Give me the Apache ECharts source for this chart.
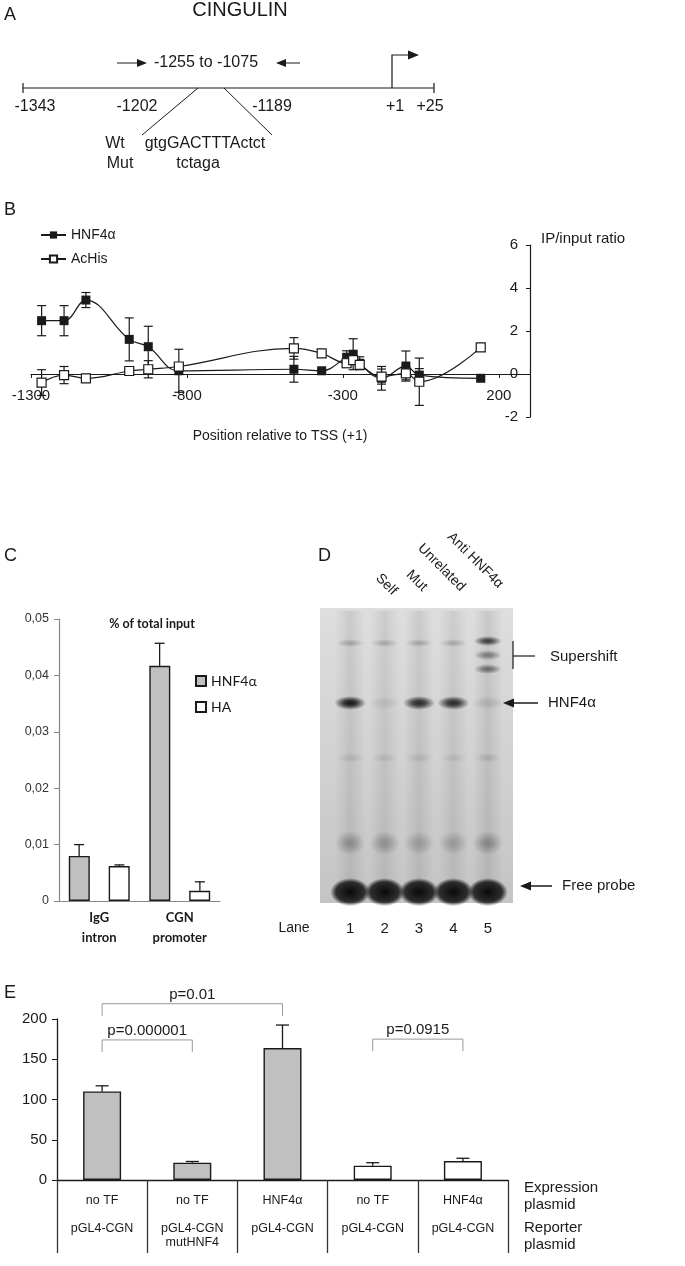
<!DOCTYPE html>
<html>
<head>
<meta charset="utf-8">
<script src="https://cdn.jsdelivr.net/npm/echarts@6/dist/echarts.min.js"></script>
<style>
  html, body { margin: 0; padding: 0; background: #fff; }
  #chart { width: 685px; height: 1266px; }
</style>
</head>
<body>
<div id="chart"></div>
<script>
// ---------- data ----------
// B: ChIP scan, position relative to TSS and IP/input ratio
const scanPos    = [-1266, -1194, -1124, -985, -924, -826, -457, -368, -288, -267, -246, -176, -98, -55, 142];
const hnf4aRatio = [2.48, 2.48, 3.44, 1.61, 1.27, 0.15, 0.22, 0.15, 0.78, 0.92, 0.5, -0.2, 0.37, -0.05, -0.2];
const hnf4aErr   = [0.7, 0.7, 0.35, 1.0, 0.95, 1.0, 0.6, 0.08, 0.3, 0.72, 0.3, 0.55, 0.7, 0.3, 0.08];
const acHisRatio = [-0.4, -0.05, -0.2, 0.14, 0.22, 0.35, 1.19, 0.96, 0.5, 0.65, 0.42, -0.12, 0.03, -0.36, 1.24];
const acHisErr   = [0.6, 0.4, 0, 0.08, 0.4, 0.08, 0.5, 0.08, 0.2, 0.2, 0.2, 0.35, 0.3, 1.1, 0.08];

// C: % of total input
const chipCats     = ['IgG\nintron', 'CGN\npromoter'];
const chipHnf4a    = [0.008, 0.0417];
const chipHnf4aErr = [0.002, 0.004];
const chipHa       = [0.0062, 0.0018];
const chipHaErr    = [0.0002, 0.0016];

// D: EMSA gel, [lane index, migration (0 top .. 100 bottom), intensity]
const gelLanes   = ['1', '2', '3', '4', '5'];
const laneSmear  = [[0, 50, 0.11], [1, 50, 0.1], [2, 50, 0.11], [3, 50, 0.1], [4, 50, 0.12]];
const wellBand   = [[0, 11.9, 0.22], [1, 11.9, 0.2], [2, 11.9, 0.22], [3, 11.9, 0.2]];
const superBand  = [[4, 11.2, 0.75], [4, 16, 0.42], [4, 20.7, 0.5]];
const hnf4aBand  = [[0, 32.2, 0.95], [1, 32.2, 0.08], [2, 32.2, 0.85], [3, 32.2, 0.85], [4, 32.2, 0.12]];
const midBand    = [[0, 50.8, 0.1], [1, 50.8, 0.09], [2, 50.8, 0.1], [3, 50.8, 0.08], [4, 50.8, 0.12]];
const smearBand  = [[0, 79.7, 0.28], [1, 79.7, 0.26], [2, 79.7, 0.2], [3, 79.7, 0.2], [4, 79.7, 0.3]];
const freeProbe  = [[0, 96.3, 1], [1, 96.3, 1], [2, 96.3, 1], [3, 96.3, 1], [4, 96.3, 1]];
const laneNames  = ['Self', 'Mut', 'Unrelated', 'Anti HNF4α'];

// E: luciferase reporter
const exprPlasmid     = ['no TF', 'no TF', 'HNF4α', 'no TF', 'HNF4α'];
const reporterPlasmid = ['pGL4-CGN', 'pGL4-CGN\nmutHNF4', 'pGL4-CGN', 'pGL4-CGN', 'pGL4-CGN'];
const lucValues       = [110, 21.5, 164, 17.8, 23.6];
const lucErr          = [7, 1.5, 28.5, 3.7, 3.4];
const lucFill         = ['#c0c0c0', '#c0c0c0', '#c0c0c0', '#fff', '#fff'];
// [from bar, to bar, label], bracket level in axis units
const pTests  = [[0, 2, 'p=0.01'], [0, 1, 'p=0.000001'], [3, 4, 'p=0.0915']];
const pLevels = [219, 174, 175];

// ---------- helpers ----------
const SANS = '"Liberation Sans", Arial, sans-serif';
const CAL = 'Lato, "Open Sans", sans-serif';
const INK = '#1a1a1a';

function txt(x, y, text, o) {
  o = o || {};
  return {
    type: 'text', x: x, y: y, rotation: o.rot || 0, z: 10,
    style: {
      text: text, fill: o.color || INK,
      font: (o.weight || 'normal') + ' ' + (o.size || 14) + 'px ' + (o.family || SANS),
      align: o.align || 'left', verticalAlign: o.va || 'middle'
    }
  };
}
function ln(x1, y1, x2, y2, o) {
  o = o || {};
  return { type: 'line', z: 10, shape: { x1: x1, y1: y1, x2: x2, y2: y2 },
    style: { stroke: o.color || INK, lineWidth: o.w || 1.2 } };
}
function tri(points) {
  return { type: 'polygon', z: 10, shape: { points: points }, style: { fill: INK } };
}

// vertical error bar with caps (both sides) for value/value grid
function symErr(capW) {
  return function (params, api) {
    const e = api.value(2);
    if (!e) return null;
    const x = api.value(0), y = api.value(1);
    const t = api.coord([x, y + e]), b = api.coord([x, y - e]);
    const st = { stroke: INK, lineWidth: 1.2 };
    return { type: 'group', children: [
      { type: 'line', shape: { x1: t[0], y1: t[1], x2: b[0], y2: b[1] }, style: st },
      { type: 'line', shape: { x1: t[0] - capW / 2, y1: t[1], x2: t[0] + capW / 2, y2: t[1] }, style: st },
      { type: 'line', shape: { x1: b[0] - capW / 2, y1: b[1], x2: b[0] + capW / 2, y2: b[1] }, style: st }
    ] };
  };
}
// upward error bar on a category grid, shifted by a fraction of the band
function upErr(offsetFrac, capW) {
  return function (params, api) {
    const i = api.value(0), v = api.value(1), e = api.value(2);
    const band = api.size([1, 0])[0];
    const base = api.coord([i, v]), top = api.coord([i, v + e]);
    const x = base[0] + offsetFrac * band;
    const st = { stroke: INK, lineWidth: 1.3 };
    return { type: 'group', children: [
      { type: 'line', shape: { x1: x, y1: base[1], x2: x, y2: top[1] }, style: st },
      { type: 'line', shape: { x1: x - capW / 2, y1: top[1], x2: x + capW / 2, y2: top[1] }, style: st }
    ] };
  };
}
function bandColor(core) {
  return function (p) {
    const a = p.value[2];
    return new echarts.graphic.RadialGradient(0.5, 0.5, 0.5, [
      { offset: 0, color: 'rgba(10,10,10,' + a + ')' },
      { offset: core, color: 'rgba(10,10,10,' + (a * 0.8) + ')' },
      { offset: 1, color: 'rgba(10,10,10,0)' }
    ]);
  };
}
function gelSeries(data, size, core) {
  return {
    type: 'scatter', xAxisIndex: 2, yAxisIndex: 2, symbol: 'circle', symbolSize: size,
    data: data, silent: true, z: 3,
    itemStyle: { color: bandColor(core), opacity: 1 }
  };
}

// ---------- graphic: panel A schematic and annotations ----------
const g = [];
// panel letters
g.push(txt(4, 15, 'A', { size: 18 }));
g.push(txt(4, 210, 'B', { size: 18 }));
g.push(txt(4, 556, 'C', { size: 18 }));
g.push(txt(318, 556, 'D', { size: 18 }));
g.push(txt(4, 993, 'E', { size: 18 }));

// panel A
g.push(txt(240, 10, 'CINGULIN', { size: 20, align: 'center' }));
g.push(ln(23, 88, 434, 88));
g.push(ln(23, 83, 23, 93));
g.push(ln(434, 83, 434, 93));
g.push({ type: 'polyline', z: 10, shape: { points: [[392, 88], [392, 55], [410, 55]] }, style: { stroke: INK, lineWidth: 1.2, fill: null } });
g.push(tri([[408, 50.5], [419, 55], [408, 59.5]]));
g.push(ln(117, 63, 139, 63, { w: 1 }));
g.push(tri([[137, 59], [147, 63], [137, 67]]));
g.push(ln(284, 63, 300, 63, { w: 1 }));
g.push(tri([[286, 59], [276, 63], [286, 67]]));
g.push(txt(206, 63, '-1255 to -1075', { size: 16, align: 'center' }));
[['-1343', 35], ['-1202', 137], ['-1189', 272], ['+1', 395], ['+25', 430]].forEach(function (d) {
  g.push(txt(d[1], 107, d[0], { size: 16, align: 'center' }));
});
g.push(ln(198, 88, 142, 135, { w: 1 }));
g.push(ln(224, 88, 272, 135, { w: 1 }));
g.push(txt(115, 144, 'Wt', { size: 16, align: 'center' }));
g.push(txt(205, 144, 'gtgGACTTTActct', { size: 16, align: 'center' }));
g.push(txt(120, 164, 'Mut', { size: 16, align: 'center' }));
g.push(txt(198, 164, 'tctaga', { size: 16, align: 'center' }));

// panel B texts
g.push(txt(541, 239, 'IP/input ratio', { size: 15 }));
g.push(txt(280, 436, 'Position relative to TSS (+1)', { size: 14, align: 'center' }));

// panel C title
g.push(txt(152, 624, '% of total input', { size: 12.5, weight: 'bold', family: CAL, align: 'center' }));

// panel D gel background, rotated lane labels, annotations
g.push({ type: 'rect', z: 0, shape: { x: 320, y: 608, width: 193, height: 295 },
  style: { fill: new echarts.graphic.LinearGradient(0, 0, 0, 1, [
    { offset: 0, color: '#dedede' }, { offset: 0.5, color: '#d2d2d2' }, { offset: 1, color: '#c4c4c4' }]) } });
const laneEnds = [[390, 598], [420, 594], [458, 594], [496, 591]];
laneNames.forEach(function (n, i) {
  g.push(txt(laneEnds[i][0], laneEnds[i][1], n, { size: 14, align: 'right', va: 'bottom', rot: -Math.PI / 4 }));
});
g.push(ln(513, 641, 513, 669));
g.push(ln(513, 656, 535, 656));
g.push(txt(550, 657, 'Supershift', { size: 15 }));
g.push(ln(538, 703, 511, 703, { w: 1.5 }));
g.push(tri([[503, 703], [514, 698.5], [514, 707.5]]));
g.push(txt(548, 703, 'HNF4α', { size: 15 }));
g.push(ln(552, 886, 528, 886, { w: 1.5 }));
g.push(tri([[520, 886], [531, 881.5], [531, 890.5]]));
g.push(txt(562, 886, 'Free probe', { size: 15 }));
g.push(txt(294, 928, 'Lane', { size: 14, align: 'center' }));

// panel E right side labels
g.push(txt(524, 1188, 'Expression', { size: 15 }));
g.push(txt(524, 1205, 'plasmid', { size: 15 }));
g.push(txt(524, 1228, 'Reporter', { size: 15 }));
g.push(txt(524, 1245, 'plasmid', { size: 15 }));

// ---------- option ----------
const chart = echarts.init(document.getElementById('chart'));
const option = {
  animation: false,
  backgroundColor: '#fff',
  textStyle: { fontFamily: SANS, color: INK },
  graphic: { elements: g },
  legend: [
    {
      data: ['HNF4α', 'AcHis'], orient: 'vertical', left: 35, top: 223,
      itemWidth: 25, itemHeight: 9, itemGap: 10, selectedMode: false,
      textStyle: { fontSize: 14, color: INK, fontFamily: SANS }
    },
    {
      data: ['HNF4α ', 'HA'], orient: 'vertical', left: 190, top: 669,
      icon: 'rect', itemWidth: 10, itemHeight: 10, itemGap: 12, selectedMode: false,
      textStyle: { fontSize: 14, color: INK, fontFamily: CAL }
    }
  ],
  grid: [
    { left: 31, width: 499, top: 245, height: 172 },
    { left: 59, width: 161, top: 619, height: 282 },
    { left: 333, width: 172, top: 608, height: 295 },
    { left: 57, width: 451, top: 1019, height: 161 }
  ],
  xAxis: [
    {
      // sits on the zero line of the right-hand axis (43px above the grid bottom)
      gridIndex: 0, type: 'value', min: -1300, max: 300, interval: 500, offset: -43,
      axisLine: { onZero: false, lineStyle: { color: INK, width: 1.2 } },
      axisTick: { show: true, length: 4, lineStyle: { color: INK } },
      axisLabel: { showMaxLabel: false, fontSize: 15, color: INK, margin: 14,
        formatter: function (v) { return String(v); } },
      splitLine: { show: false }
    },
    {
      gridIndex: 1, type: 'category', data: chipCats,
      axisLine: { lineStyle: { color: '#888', width: 1.2 } },
      axisTick: { show: false },
      axisLabel: { fontFamily: CAL, fontWeight: 'bold', fontSize: 13, lineHeight: 20, color: INK, margin: 7 }
    },
    {
      gridIndex: 2, type: 'category', data: gelLanes,
      axisLine: { show: false }, axisTick: { show: false },
      axisLabel: { fontSize: 15, color: INK, margin: 18 }
    },
    {
      gridIndex: 3, type: 'category', data: ['0', '1', '2', '3', '4'],
      axisLine: { lineStyle: { color: INK, width: 1.3 } },
      axisTick: { show: true, length: 73, interval: 0, lineStyle: { color: '#333', width: 1.3 } },
      axisLabel: {
        interval: 0, fontSize: 12.5, lineHeight: 14, color: INK, margin: 14,
        formatter: function (v, i) { return exprPlasmid[i] + '\n\n' + reporterPlasmid[i]; }
      }
    }
  ],
  yAxis: [
    {
      gridIndex: 0, type: 'value', position: 'right', min: -2, max: 6, interval: 2,
      axisLine: { show: true, onZero: false, lineStyle: { color: INK, width: 1.2 } },
      axisTick: { show: true, inside: true, length: 4, lineStyle: { color: INK } },
      axisLabel: { inside: true, margin: 12, fontSize: 15, color: INK },
      splitLine: { show: false }
    },
    {
      gridIndex: 1, type: 'value', min: 0, max: 0.05, interval: 0.01,
      axisLine: { show: true, lineStyle: { color: '#888', width: 1.2 } },
      axisTick: { show: true, length: 5, lineStyle: { color: '#888' } },
      axisLabel: {
        fontSize: 12.5, color: '#333', margin: 10,
        formatter: function (v) { return v === 0 ? '0' : v.toFixed(2).replace('.', ','); }
      },
      splitLine: { show: false }
    },
    { gridIndex: 2, type: 'value', min: 0, max: 100, inverse: true, show: false },
    {
      gridIndex: 3, type: 'value', min: 0, max: 200, interval: 50,
      axisLine: { show: true, lineStyle: { color: INK, width: 1.3 } },
      axisTick: { show: true, length: 5, lineStyle: { color: INK } },
      axisLabel: { fontSize: 15, color: INK, margin: 10 },
      splitLine: { show: false }
    }
  ],
  series: [
    // ----- B -----
    {
      type: 'custom', xAxisIndex: 0, yAxisIndex: 0, z: 1, silent: true,
      renderItem: symErr(9),
      data: scanPos.map(function (x, i) { return [x, hnf4aRatio[i], hnf4aErr[i]]; })
    },
    {
      type: 'custom', xAxisIndex: 0, yAxisIndex: 0, z: 1, silent: true,
      renderItem: symErr(9),
      data: scanPos.map(function (x, i) { return [x, acHisRatio[i], acHisErr[i]]; })
    },
    {
      name: 'HNF4α', type: 'line', xAxisIndex: 0, yAxisIndex: 0, z: 3,
      smooth: 0.4, symbol: 'rect', symbolSize: 9,
      lineStyle: { color: INK, width: 1.2 },
      itemStyle: { color: INK },
      data: scanPos.map(function (x, i) { return [x, hnf4aRatio[i]]; })
    },
    {
      name: 'AcHis', type: 'line', xAxisIndex: 0, yAxisIndex: 0, z: 4,
      smooth: 0.4, symbol: 'rect', symbolSize: 9,
      lineStyle: { color: INK, width: 1.2 },
      itemStyle: { color: '#fff', borderColor: INK, borderWidth: 1.2 },
      data: scanPos.map(function (x, i) { return [x, acHisRatio[i]]; })
    },
    // ----- C -----
    {
      name: 'HNF4α ', type: 'bar', xAxisIndex: 1, yAxisIndex: 1,
      barWidth: 21, barGap: '90%',
      itemStyle: { color: '#c0c0c0', borderColor: INK, borderWidth: 1.4 },
      data: chipHnf4a
    },
    {
      name: 'HA', type: 'bar', xAxisIndex: 1, yAxisIndex: 1,
      barWidth: 21, barGap: '90%',
      itemStyle: { color: '#fff', borderColor: INK, borderWidth: 1.4 },
      data: chipHa
    },
    {
      type: 'custom', xAxisIndex: 1, yAxisIndex: 1, z: 3, silent: true,
      renderItem: upErr(-0.25, 10),
      data: chipHnf4a.map(function (v, i) { return [i, v, chipHnf4aErr[i]]; })
    },
    {
      type: 'custom', xAxisIndex: 1, yAxisIndex: 1, z: 3, silent: true,
      renderItem: upErr(0.25, 10),
      data: chipHa.map(function (v, i) { return [i, v, chipHaErr[i]]; })
    },
    // ----- D gel -----
    {
      type: 'scatter', xAxisIndex: 2, yAxisIndex: 2, symbol: 'rect', symbolSize: [30, 290],
      silent: true, z: 2, data: laneSmear,
      itemStyle: { color: function (p) {
        const a = p.value[2];
        return new echarts.graphic.LinearGradient(0, 0, 1, 0, [
          { offset: 0, color: 'rgba(0,0,0,0)' }, { offset: 0.5, color: 'rgba(0,0,0,' + a + ')' },
          { offset: 1, color: 'rgba(0,0,0,0)' }]);
      } }
    },
    gelSeries(wellBand, [28, 8], 0.3),
    gelSeries(superBand, [28, 10], 0.35),
    gelSeries(hnf4aBand, [32, 14], 0.4),
    gelSeries(midBand, [28, 10], 0.3),
    gelSeries(smearBand, [30, 24], 0.3),
    gelSeries(freeProbe, [40, 28], 0.72),
    // ----- E -----
    {
      type: 'bar', xAxisIndex: 3, yAxisIndex: 3, barWidth: 38,
      data: lucValues.map(function (v, i) {
        return { value: v, itemStyle: { color: lucFill[i], borderColor: INK, borderWidth: 1.4 } };
      })
    },
    {
      type: 'custom', xAxisIndex: 3, yAxisIndex: 3, z: 3, silent: true,
      renderItem: upErr(0, 13),
      data: lucValues.map(function (v, i) { return [i, v, lucErr[i]]; })
    },
    {
      type: 'custom', xAxisIndex: 3, yAxisIndex: 3, z: 3, silent: true, clip: false,
      encode: { x: 0, y: 2 },
      renderItem: function (params, api) {
        const a = api.value(0), b = api.value(1), lvl = api.value(2), label = pTests[params.dataIndex][2];
        const p1 = api.coord([a, lvl]), p2 = api.coord([b, lvl]);
        const leg = api.coord([a, lvl - 15])[1];
        const st = { stroke: '#999', lineWidth: 1 };
        return { type: 'group', children: [
          { type: 'line', shape: { x1: p1[0], y1: p1[1], x2: p2[0], y2: p2[1] }, style: st },
          { type: 'line', shape: { x1: p1[0], y1: p1[1], x2: p1[0], y2: leg }, style: st },
          { type: 'line', shape: { x1: p2[0], y1: p2[1], x2: p2[0], y2: leg }, style: st },
          { type: 'text', style: { text: label, x: (p1[0] + p2[0]) / 2, y: p1[1] - 9, align: 'center',
            verticalAlign: 'middle', fill: INK, font: '15px ' + SANS } }
        ] };
      },
      data: pTests.map(function (t, i) { return [t[0], t[1], pLevels[i]]; })
    }
  ]
};
chart.setOption(option);
</script>
</body>
</html>
